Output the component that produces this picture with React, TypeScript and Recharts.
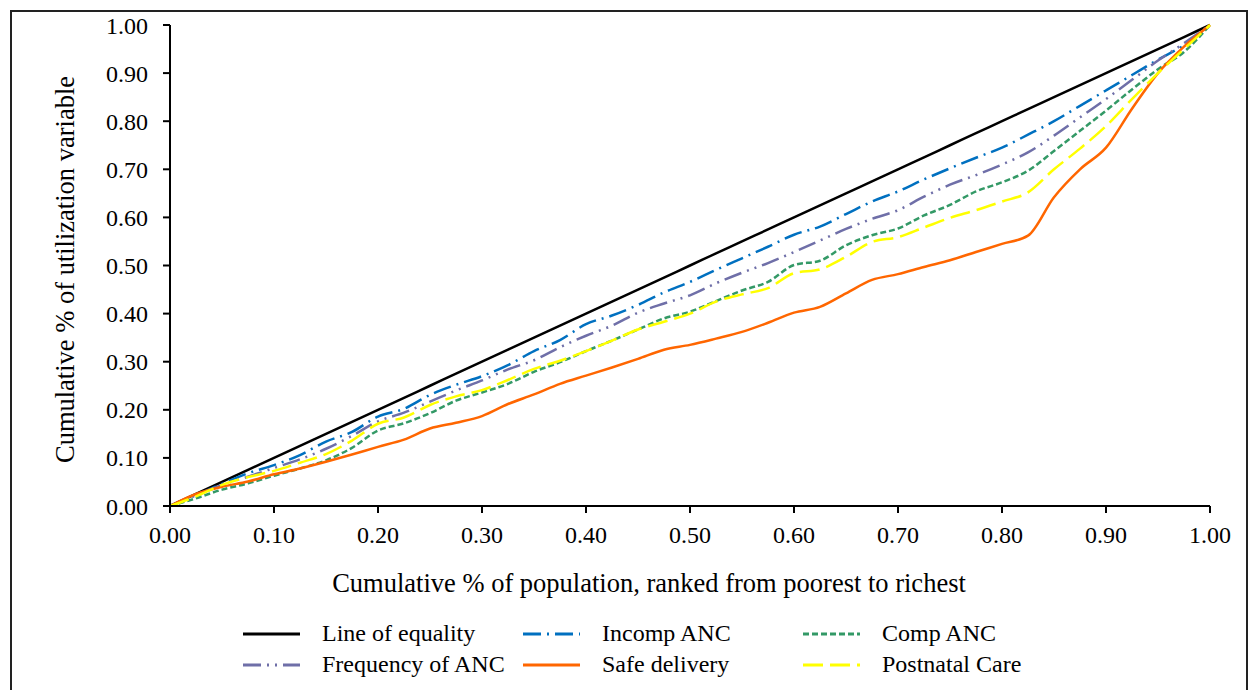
import { LineChart, Line, XAxis, YAxis, Legend, Label } from 'recharts';

const FONT = '"Liberation Serif", "Times New Roman", serif';

// x positions (cumulative share of population)
const popShare = [
  0, 0.025, 0.05, 0.075, 0.1, 0.125, 0.15, 0.175, 0.2, 0.225, 0.25, 0.275, 0.3, 0.325,
  0.35, 0.375, 0.4, 0.425, 0.45, 0.475, 0.5, 0.525, 0.55, 0.575, 0.6, 0.625, 0.65, 0.675,
  0.7, 0.725, 0.75, 0.775, 0.8, 0.825, 0.85, 0.875, 0.9, 0.925, 0.95, 0.975, 1,
];

const equalityLine = [
  0, 0.025, 0.05, 0.075, 0.1, 0.125, 0.15, 0.175, 0.2, 0.225, 0.25, 0.275, 0.3, 0.325,
  0.35, 0.375, 0.4, 0.425, 0.45, 0.475, 0.5, 0.525, 0.55, 0.575, 0.6, 0.625, 0.65, 0.675,
  0.7, 0.725, 0.75, 0.775, 0.8, 0.825, 0.85, 0.875, 0.9, 0.925, 0.95, 0.975, 1,
];

const incompAnc = [
  0, 0.023, 0.046, 0.068, 0.085, 0.106, 0.134, 0.154, 0.186, 0.202, 0.231, 0.252, 0.27, 0.293,
  0.322, 0.345, 0.378, 0.396, 0.418, 0.444, 0.466, 0.491, 0.515, 0.539, 0.564, 0.581, 0.607, 0.633,
  0.654, 0.679, 0.702, 0.724, 0.745, 0.772, 0.8, 0.832, 0.864, 0.896, 0.928, 0.958, 1,
];

const compAnc = [
  0, 0.016, 0.034, 0.047, 0.063, 0.078, 0.095, 0.121, 0.157, 0.172, 0.193, 0.219, 0.236, 0.254,
  0.279, 0.299, 0.322, 0.344, 0.367, 0.39, 0.404, 0.426, 0.448, 0.466, 0.501, 0.51, 0.542, 0.563,
  0.577, 0.604, 0.626, 0.654, 0.673, 0.697, 0.738, 0.78, 0.822, 0.866, 0.908, 0.944, 1,
];

const freqAnc = [
  0, 0.022, 0.044, 0.061, 0.079, 0.097, 0.119, 0.146, 0.176, 0.194, 0.217, 0.24, 0.261, 0.284,
  0.303, 0.33, 0.354, 0.375, 0.402, 0.421, 0.438, 0.463, 0.485, 0.505, 0.528, 0.552, 0.576, 0.597,
  0.615, 0.643, 0.668, 0.688, 0.71, 0.735, 0.77, 0.808, 0.846, 0.886, 0.926, 0.962, 1,
];

const safeDelivery = [
  0, 0.025, 0.04, 0.051, 0.066, 0.078, 0.092, 0.107, 0.123, 0.138, 0.161, 0.173, 0.187, 0.212,
  0.232, 0.254, 0.271, 0.288, 0.306, 0.325, 0.335, 0.348, 0.362, 0.381, 0.402, 0.414, 0.442, 0.47,
  0.482, 0.497, 0.511, 0.528, 0.545, 0.562, 0.642, 0.7, 0.745, 0.826, 0.9, 0.955, 1,
];

const postnatalCare = [
  0, 0.02, 0.044, 0.06, 0.073, 0.09, 0.108, 0.136, 0.171, 0.184, 0.21, 0.228, 0.241, 0.262,
  0.285, 0.302, 0.322, 0.344, 0.367, 0.383, 0.4, 0.425, 0.44, 0.453, 0.484, 0.492, 0.518, 0.549,
  0.559, 0.579, 0.599, 0.615, 0.633, 0.652, 0.7, 0.743, 0.79, 0.846, 0.9, 0.95, 1,
];

const axisTicks = [0, 0.1, 0.2, 0.3, 0.4, 0.5, 0.6, 0.7, 0.8, 0.9, 1];

const SERIES = [
  { key: 'equality', name: 'Line of equality', color: '#000000', dash: undefined },
  { key: 'incomp', name: 'Incomp ANC', color: '#0070C0', dash: '18 6 2 6' },
  { key: 'comp', name: 'Comp ANC', color: '#339966', dash: '6 3' },
  { key: 'freq', name: 'Frequency of ANC', color: '#6F6FA8', dash: '18 6 2 6 2 6' },
  { key: 'safe', name: 'Safe delivery', color: '#FF6600', dash: undefined },
  { key: 'postnatal', name: 'Postnatal Care', color: '#FFFF00', dash: '20 7' },
];

const data = popShare.map((x, i) => ({
  x,
  equality: equalityLine[i],
  incomp: incompAnc[i],
  comp: compAnc[i],
  freq: freqAnc[i],
  safe: safeDelivery[i],
  postnatal: postnatalCare[i],
}));

const TICK_STYLE = { fontSize: 24, fill: '#000', fontFamily: FONT };

function LegendContent() {
  return (
    <div
      style={{
        display: 'grid',
        gridTemplateColumns: '280px 280px 280px',
        fontFamily: FONT,
        fontSize: 24,
        color: '#000',
      }}
    >
      {SERIES.map((s) => (
        <div key={s.key} style={{ display: 'flex', alignItems: 'center', height: 31 }}>
          <svg width={57} height={10} style={{ marginRight: 22 }}>
            <line
              x1={0}
              y1={5}
              x2={57}
              y2={5}
              stroke={s.color}
              strokeWidth={3}
              strokeDasharray={s.dash}
            />
          </svg>
          <span style={{ whiteSpace: 'nowrap' }}>{s.name}</span>
        </div>
      ))}
    </div>
  );
}

export default function App() {
  return (
    <div
      style={{
        position: 'absolute',
        left: 0,
        top: 0,
        width: 1248,
        height: 690,
        background: '#fff',
        overflow: 'hidden',
      }}
    >
      <div
        style={{
          position: 'absolute',
          left: 10,
          top: 10,
          width: 1238,
          height: 700,
          border: '2px solid #222',
          boxSizing: 'border-box',
        }}
      />
      <LineChart
        width={1248}
        height={690}
        data={data}
        margin={{ top: 25, right: 38, left: 70, bottom: 144 }}
      >
        <XAxis
          dataKey="x"
          type="number"
          domain={[0, 1]}
          ticks={axisTicks}
          tickFormatter={(v: number) => v.toFixed(2)}
          tick={TICK_STYLE}
          tickSize={7}
          tickMargin={13}
          axisLine={{ stroke: '#000', strokeWidth: 2 }}
          tickLine={{ stroke: '#000', strokeWidth: 2 }}
          height={40}
          interval={0}
        >
          <Label
            content={({ viewBox }: any) => (
              <text
                x={viewBox.x + viewBox.width / 2 - 41}
                y={viewBox.y + 77}
                textAnchor="middle"
                dominantBaseline="central"
                fontFamily={FONT}
                fontSize={26.5}
                fill="#000"
              >
                Cumulative % of population, ranked from poorest to richest
              </text>
            )}
          />
        </XAxis>
        <YAxis
          type="number"
          domain={[0, 1]}
          ticks={axisTicks}
          tickFormatter={(v: number) => v.toFixed(2)}
          tick={TICK_STYLE}
          tickSize={7}
          tickMargin={15}
          axisLine={{ stroke: '#000', strokeWidth: 2 }}
          tickLine={{ stroke: '#000', strokeWidth: 2 }}
          width={100}
          interval={0}
        >
          <Label
            content={({ viewBox }: any) => {
              const cx = viewBox.x - 5;
              const cy = viewBox.y + viewBox.height / 2 + 4;
              return (
                <text
                  x={cx}
                  y={cy}
                  transform={`rotate(-90 ${cx} ${cy})`}
                  textAnchor="middle"
                  dominantBaseline="central"
                  fontFamily={FONT}
                  fontSize={26.5}
                  fill="#000"
                >
                  Cumulative % of utilization variable
                </text>
              );
            }}
          />
        </YAxis>
        <Legend
          layout="horizontal"
          verticalAlign="middle"
          align="center"
          content={<LegendContent />}
          wrapperStyle={{ left: 243, top: 618, width: 860 }}
        />
        {SERIES.map((s) => (
          <Line
            key={s.key}
            dataKey={s.key}
            name={s.name}
            type="monotone"
            stroke={s.color}
            strokeWidth={2.5}
            strokeDasharray={s.dash}
            dot={false}
            activeDot={false}
            isAnimationActive={false}
          />
        ))}
      </LineChart>
    </div>
  );
}
